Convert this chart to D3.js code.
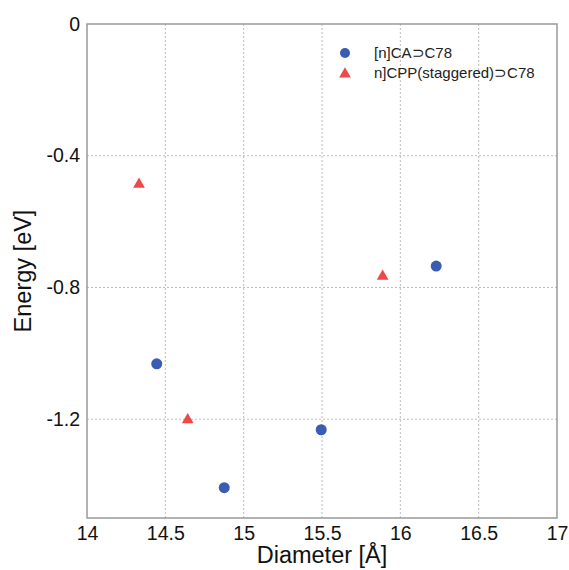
<!DOCTYPE html>
<html>
<head>
<meta charset="utf-8">
<script src="https://cdn.jsdelivr.net/npm/d3@7"></script>
<style>
  body { margin: 0; background: #fff; }
  text { font-family: "Liberation Sans", Arial, sans-serif; }
</style>
</head>
<body>
<div id="chart"></div>
<script>
// data
const caDiameter = [14.445, 14.876, 15.495, 16.229];
const caEnergy = [-1.032, -1.408, -1.232, -0.735];
const cppDiameter = [14.332, 14.643, 15.887];
const cppEnergy = [-0.484, -1.199, -0.763];
const xTicks = [14, 14.5, 15, 15.5, 16, 16.5, 17];
const yTicks = [0, -0.4, -0.8, -1.2];
const seriesNames = ["[n]CA\u2283C78", "n]CPP(staggered)\u2283C78"];

const W = 569, H = 570;
const margin = { top: 24, right: 12, bottom: 52, left: 87 };
const width = W - margin.left - margin.right,
      height = H - margin.top - margin.bottom;

const blue = "#3a5db3", red = "#ef4848";

const svg = d3.select("#chart").append("svg")
    .attr("width", W).attr("height", H)
    .append("g")
    .attr("transform", `translate(${margin.left},${margin.top})`);

const x = d3.scaleLinear().domain([14, 17]).range([0, width]);
const y = d3.scaleLinear().domain([-1.5, 0]).range([height, 0]);

// grid
svg.selectAll(".vgrid").data(xTicks.slice(1, -1)).enter().append("line")
    .attr("x1", d => x(d)).attr("x2", d => x(d))
    .attr("y1", 0).attr("y2", height)
    .attr("stroke", "#aaa").attr("stroke-width", 0.8).attr("stroke-dasharray", "2,2");
svg.selectAll(".hgrid").data(yTicks.slice(1)).enter().append("line")
    .attr("x1", 0).attr("x2", width)
    .attr("y1", d => y(d)).attr("y2", d => y(d))
    .attr("stroke", "#aaa").attr("stroke-width", 0.8).attr("stroke-dasharray", "2,2");

// axes (labels only)
const xAxis = svg.append("g")
    .attr("transform", `translate(0,${height})`)
    .call(d3.axisBottom(x).tickValues(xTicks).tickSize(0).tickPadding(8).tickFormat(d => d));
const yAxis = svg.append("g")
    .call(d3.axisLeft(y).tickValues(yTicks).tickSize(0).tickPadding(7).tickFormat(d => d));
[xAxis, yAxis].forEach(a => {
    a.select(".domain").remove();
    a.selectAll("text").attr("font-size", 19.5).attr("fill", "#111")
        .style("font-family", "'Liberation Sans', Arial, sans-serif");
});

// frame
svg.append("rect")
    .attr("width", width).attr("height", height)
    .attr("fill", "none").attr("stroke", "#999").attr("stroke-width", 1.5);

// points
svg.selectAll(".ca").data(caDiameter).enter().append("circle")
    .attr("cx", d => x(d))
    .attr("cy", (d, i) => y(caEnergy[i]))
    .attr("r", 5.5)
    .attr("fill", blue);

const tri = d3.symbol().type(d3.symbolTriangle).size(60);
svg.selectAll(".cpp").data(cppDiameter).enter().append("path")
    .attr("d", tri)
    .attr("transform", (d, i) => `translate(${x(d)},${y(cppEnergy[i]) + 1})`)
    .attr("fill", red);

// legend
const legend = svg.append("g").attr("transform", `translate(${345 - margin.left},${53 - margin.top})`);
legend.append("circle").attr("cx", 0).attr("cy", 0).attr("r", 5).attr("fill", blue);
legend.append("path").attr("d", tri).attr("transform", "translate(0,21)").attr("fill", red);
legend.selectAll(".lt").data(seriesNames).enter().append("text")
    .attr("x", 29).attr("y", (d, i) => i * 20 + 5)
    .attr("font-size", 15).attr("fill", "#222")
    .text(d => d);

// axis labels
svg.append("text")
    .attr("x", width / 2).attr("y", height + 45)
    .attr("text-anchor", "middle").attr("font-size", 23.5).attr("fill", "#111")
    .text("Diameter [\u00c5]");
svg.append("text")
    .attr("transform", `translate(${-56},${height / 2}) rotate(-90)`)
    .attr("text-anchor", "middle").attr("font-size", 23.5).attr("fill", "#111")
    .text("Energy [eV]");
</script>
</body>
</html>
